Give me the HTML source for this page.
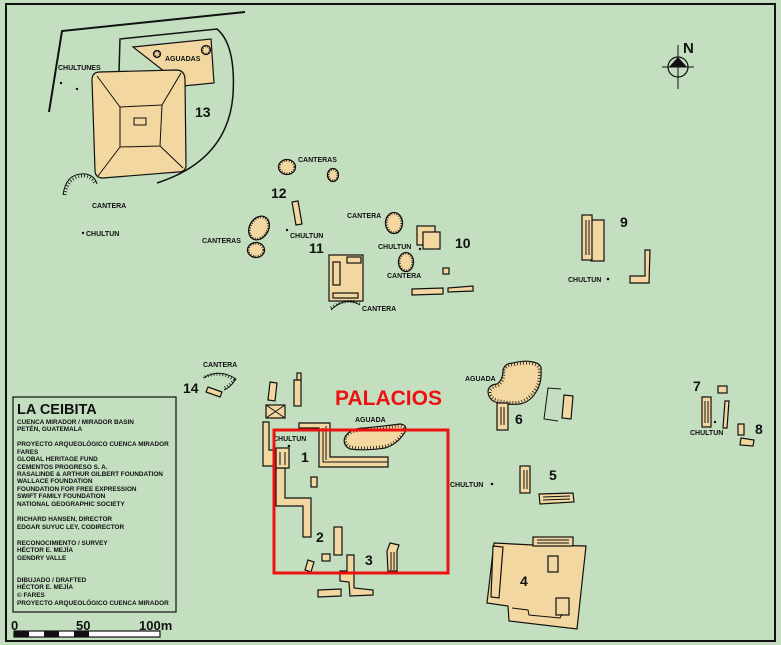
<!DOCTYPE html>
<html><head><meta charset="utf-8"><style>
html,body{margin:0;padding:0;background:#fff;}
svg{display:block;}
text{font-family:"Liberation Sans",Arial,sans-serif;font-weight:bold;fill:#111;}
.s{font-size:7px;}
.l{font-size:6.4px;}
.n{font-size:14px;}
.t{fill:#f2d8a0;stroke:#111;stroke-width:1.2;}
.ln{fill:none;stroke:#111;stroke-width:1;}
.h{fill:none;stroke:#111;stroke-width:4;stroke-dasharray:0.8 2.2;}
.c{fill:#f2d8a0;stroke:#111;stroke-width:1.3;}
.ci{fill:none;stroke:#111;stroke-width:1.8;stroke-dasharray:0.8 1.8;}
</style></head><body>
<svg width="781" height="645" viewBox="0 0 781 645" xmlns="http://www.w3.org/2000/svg">
<rect x="0" y="0" width="781" height="645" fill="#c3dfc0"/>
<rect x="6" y="4" width="769" height="637" fill="none" stroke="#111" stroke-width="2"/>

<!-- top-left enclosure -->
<polyline class="ln" points="49,112 62,31 245,12" style="stroke-width:2"/>
<path class="ln" style="stroke-width:1.5" d="M119,72 L120,39 L217,29 Q236,45 233,95 Q228,160 157,183"/>
<polygon class="t" points="133,47 211,39 214,83 183,86"/>
<circle cx="157" cy="54" r="3.5" class="c"/><circle cx="157" cy="54" r="2.6" class="ci"/>
<circle cx="206" cy="50" r="4.5" class="c"/><circle cx="206" cy="50" r="3.6" class="ci"/>
<text class="s" x="165" y="61">AGUADAS</text>
<text class="s" x="58" y="70">CHULTUNES</text>
<circle cx="61" cy="83" r="1.2" fill="#111"/><circle cx="77" cy="89" r="1.2" fill="#111"/>
<path class="t" d="M100,72 L176,70 Q185,70 185,80 L186,165 Q186,172 178,172 L103,178 Q95,178 95,170 L92,80 Q92,72 100,72Z"/>
<polygon class="ln" points="120,107 162,105 160,146 120,147"/>
<line class="ln" x1="97" y1="76" x2="120" y2="107"/><line class="ln" x1="181" y1="73" x2="162" y2="105"/>
<line class="ln" x1="183" y1="168" x2="160" y2="146"/><line class="ln" x1="98" y1="176" x2="120" y2="147"/>
<rect x="134" y="118" width="12" height="7" fill="none" stroke="#111"/>
<text class="n" x="195" y="117">13</text>
<path class="ln" d="M63,195 Q66,172 86,174 Q95,176 97,184"/><path class="h" d="M65,195 Q68,175 86,176 Q93,178 95,184" style="stroke-width:3"/>
<text class="s" x="92" y="208">CANTERA</text>
<circle cx="83" cy="233" r="1.2" fill="#111"/><text class="s" x="86" y="236">CHULTUN</text>

<!-- group 12 -->
<ellipse class="c" cx="287" cy="167" rx="8.5" ry="7.5"/><ellipse class="ci" cx="287" cy="167" rx="7.3" ry="6.3"/>
<ellipse class="c" cx="333" cy="175" rx="5.5" ry="6.5"/><ellipse class="ci" cx="333" cy="175" rx="4.4" ry="5.4"/>
<text class="s" x="298" y="162">CANTERAS</text>
<text class="n" x="271" y="198">12</text>
<polygon class="t" points="292,202 298,201 302,224 296,225"/>
<g transform="rotate(30 259 228)"><ellipse class="c" cx="259" cy="228" rx="9.5" ry="12.5"/><ellipse class="ci" cx="259" cy="228" rx="8.3" ry="11.3"/></g>
<ellipse class="c" cx="256" cy="250" rx="8.5" ry="7.5"/><ellipse class="ci" cx="256" cy="250" rx="7.3" ry="6.3"/>
<text class="s" x="202" y="243">CANTERAS</text>
<circle cx="287" cy="230" r="1.2" fill="#111"/><text class="s" x="290" y="238">CHULTUN</text>
<text class="n" x="309" y="253">11</text>
<rect class="t" x="329" y="255" width="34" height="46"/>
<rect class="t" x="333" y="262" width="7" height="23"/>
<rect class="t" x="347" y="257" width="14" height="6"/>
<rect class="t" x="333" y="293" width="25" height="5"/>
<path class="ln" d="M331,310 Q345,296 360,305"/><path class="h" d="M331,308 Q345,298 360,303" style="stroke-width:3"/>
<text class="s" x="362" y="311">CANTERA</text>

<!-- group 10 -->
<ellipse class="c" cx="394" cy="223" rx="8.5" ry="10.5"/><ellipse class="ci" cx="394" cy="223" rx="7.3" ry="9.3"/>
<text class="s" x="347" y="218">CANTERA</text>
<rect class="t" x="417" y="226" width="18" height="19"/>
<rect class="t" x="423" y="232" width="17" height="17"/>
<text class="n" x="455" y="248">10</text>
<text class="s" x="378" y="249">CHULTUN</text><circle cx="420" cy="249" r="1.2" fill="#111"/>
<ellipse class="c" cx="406" cy="262" rx="7.5" ry="9.5"/><ellipse class="ci" cx="406" cy="262" rx="6.3" ry="8.3"/>
<text class="s" x="387" y="278">CANTERA</text>
<rect class="t" x="443" y="268" width="6" height="6"/>
<polygon class="t" points="412,289 443,288 443,294 412,295"/>
<polygon class="t" points="448,288 473,286 473,291 448,292"/>

<!-- group 9 -->
<rect class="t" x="591" y="220" width="13" height="41"/>
<rect class="t" x="582" y="215" width="10" height="45"/>
<line class="ln" x1="586" y1="220" x2="586" y2="255"/><line class="ln" x1="589" y1="220" x2="589" y2="255"/>
<text class="n" x="620" y="227">9</text>
<polygon class="t" points="645,250 650,250 649,283 630,283 630,276 645,276"/>
<text class="s" x="568" y="282">CHULTUN</text><circle cx="608" cy="279" r="1.3" fill="#111"/>

<!-- north -->
<circle cx="678" cy="67" r="10" fill="none" stroke="#111" stroke-width="1.2"/>
<line class="ln" x1="678" y1="45" x2="678" y2="89"/><line class="ln" x1="662" y1="67" x2="694" y2="67"/>
<polygon points="669,67 678,57 687,67" fill="#111"/>
<text x="683" y="53" style="font-size:15px">N</text>

<!-- group 14 -->
<text class="s" x="203" y="367">CANTERA</text>
<path class="ln" d="M203,378 Q220,368 236,379 Q230,388 224,390"/>
<path class="h" d="M205,377 Q220,370 234,380 Q229,386 224,388" style="stroke-width:3"/>
<text class="n" x="183" y="393">14</text>
<polygon class="t" points="208,387 222,392 220,397 206,392"/>

<!-- palacios area -->
<polygon class="t" points="270,382 277,383 275,401 268,400"/>
<rect class="t" x="294" y="380" width="7" height="26"/>
<rect class="t" x="297" y="373" width="4" height="7"/>
<rect class="t" x="266" y="405" width="19" height="13"/>
<line class="ln" x1="266" y1="405" x2="285" y2="418"/><line class="ln" x1="285" y1="405" x2="266" y2="418"/>
<polygon class="t" points="263,422 269,422 269,450 276,450 276,466 263,466"/>
<polygon class="t" points="299,423 330,423 330,457 388,457 388,467 319,467 319,428 299,428"/>
<polyline class="ln" points="323,428 323,462 388,462"/>
<polyline class="ln" points="326,426 326,460"/>
<path class="t" d="M345,437 Q350,428 365,428 Q385,426 400,424 Q408,425 405,432 Q398,444 385,448 Q365,451 350,449 Q342,445 345,437Z"/>
<path class="h" d="M346,437 Q351,430 365,430 Q385,428 399,426 Q406,427 403,432 Q397,443 385,446 Q365,449 351,447 Q344,444 346,437Z" style="stroke-width:2.5"/>
<text class="s" x="355" y="422">AGUADA</text>
<text class="s" x="273" y="441">CHULTUN</text><circle cx="289" cy="446" r="1.3" fill="#111"/>
<text class="n" x="301" y="462">1</text>
<polygon class="t" points="276,468 285,468 285,498 311,498 311,537 303,537 303,506 276,506"/>
<rect class="t" x="276" y="448" width="13" height="20"/>
<line class="ln" x1="280" y1="452" x2="280" y2="465"/><line class="ln" x1="285" y1="452" x2="285" y2="465"/>
<rect class="t" x="311" y="477" width="6" height="10"/>
<text class="n" x="316" y="542">2</text>
<rect class="t" x="334" y="527" width="8" height="28"/>
<rect class="t" x="322" y="554" width="8" height="7"/>
<polygon class="t" points="308,560 314,562 311,572 305,570"/>
<text class="n" x="365" y="565">3</text>
<polygon class="t" points="390,543 399,545 397,551 397,571 388,571 387,551"/>
<line class="ln" x1="391" y1="552" x2="391" y2="570"/><line class="ln" x1="394" y1="552" x2="394" y2="570"/>
<polygon class="t" points="347,555 354,555 354,588 373,590 373,595 350,596 349,582 340,581 340,571 347,571"/>
<polygon class="t" points="318,590 341,589 341,596 318,597"/>
<rect x="274" y="430" width="174" height="143" fill="none" stroke="#ee1111" stroke-width="3"/>
<text x="335" y="405" style="font-size:21px;fill:#ee1111">PALACIOS</text>

<!-- group 6 -->
<path class="t" d="M503,370 Q505,363 513,363 Q525,360 533,362 Q542,364 541,370 Q542,383 536,392 Q530,402 520,404 Q510,405 500,403 Q489,402 488,392 Q488,385 497,384 Q503,380 503,370Z"/>
<path class="h" d="M504,370 Q507,365 514,365 Q525,362 533,364 Q540,366 539,371 Q540,383 534,391 Q528,400 519,402 Q510,403 501,401 Q491,400 490,392 Q491,387 498,386 Q505,381 504,370Z" style="stroke-width:2.5"/>
<text class="s" x="465" y="381">AGUADA</text>
<rect class="t" x="497" y="403" width="11" height="27"/>
<line class="ln" x1="501" y1="407" x2="501" y2="425"/><line class="ln" x1="504" y1="407" x2="504" y2="425"/>
<text class="n" x="515" y="424">6</text>
<polyline class="ln" points="561,389 548,388 544,419 558,421"/>
<polygon class="t" points="564,395 573,396 571,419 562,418"/>

<!-- group 5 -->
<text class="s" x="450" y="487">CHULTUN</text><circle cx="492" cy="484" r="1.3" fill="#111"/>
<text class="n" x="549" y="480">5</text>
<rect class="t" x="520" y="466" width="10" height="27"/>
<line class="ln" x1="524" y1="470" x2="524" y2="489"/><line class="ln" x1="527" y1="470" x2="527" y2="489"/>
<polygon class="t" points="539,494 573,493 574,502 540,504"/>
<line class="ln" x1="543" y1="497" x2="570" y2="496"/><line class="ln" x1="543" y1="500" x2="570" y2="499"/>

<!-- group 4 -->
<polygon class="t" points="494,543 533,545 586,546 577,629 509,621 508,606 487,603"/>
<rect class="t" x="533" y="537" width="40" height="9"/>
<line class="ln" x1="537" y1="540" x2="569" y2="540"/><line class="ln" x1="537" y1="543" x2="569" y2="543"/>
<polygon class="t" points="493,546 503,547 499,598 491,597"/>
<rect class="t" x="548" y="556" width="10" height="16"/>
<rect class="t" x="556" y="598" width="13" height="17"/>
<polyline class="ln" points="512,608 528,610 529,615 560,618 562,614"/>
<text class="n" x="520" y="586">4</text>

<!-- group 7/8 -->
<text class="n" x="693" y="391">7</text>
<rect class="t" x="718" y="386" width="9" height="7"/>
<rect class="t" x="702" y="397" width="9" height="30"/>
<line class="ln" x1="705" y1="401" x2="705" y2="423"/><line class="ln" x1="708" y1="401" x2="708" y2="423"/>
<polygon class="t" points="725,401 729,401 727,428 723,428"/>
<circle cx="715" cy="422" r="1.2" fill="#111"/>
<text class="s" x="690" y="435">CHULTUN</text>
<rect class="t" x="738" y="424" width="6" height="11"/>
<text class="n" x="755" y="434">8</text>
<polygon class="t" points="741,438 754,440 753,446 740,445"/>

<!-- legend -->
<rect x="13" y="397" width="163" height="215" fill="none" stroke="#111" stroke-width="1.2"/>
<text x="17" y="414" style="font-size:14.5px">LA CEIBITA</text>
<text class="l" x="17" y="424">CUENCA MIRADOR / MIRADOR BASIN</text>
<text class="l" x="17" y="431">PETÉN, GUATEMALA</text>
<text class="l" x="17" y="446">PROYECTO ARQUEOLÓGICO CUENCA MIRADOR</text>
<text class="l" x="17" y="454">FARES</text>
<text class="l" x="17" y="461">GLOBAL HERITAGE FUND</text>
<text class="l" x="17" y="469">CEMENTOS PROGRESO S. A.</text>
<text class="l" x="17" y="476">RASALINDE &amp; ARTHUR GILBERT FOUNDATION</text>
<text class="l" x="17" y="483">WALLACE FOUNDATION</text>
<text class="l" x="17" y="491">FOUNDATION FOR  FREE EXPRESSION</text>
<text class="l" x="17" y="498">SWIFT FAMILY FOUNDATION</text>
<text class="l" x="17" y="506">NATIONAL GEOGRAPHIC SOCIETY</text>
<text class="l" x="17" y="521">RICHARD HANSEN, DIRECTOR</text>
<text class="l" x="17" y="529">EDGAR SUYUC LEY, CODIRECTOR</text>
<text class="l" x="17" y="545">RECONOCIMIENTO / SURVEY</text>
<text class="l" x="17" y="552">HÉCTOR E. MEJÍA</text>
<text class="l" x="17" y="560">GENDRY VALLE</text>
<text class="l" x="17" y="582">DIBUJADO / DRAFTED</text>
<text class="l" x="17" y="589">HÉCTOR E. MEJÍA</text>
<text class="l" x="17" y="597">©  FARES</text>
<text class="l" x="17" y="605">PROYECTO ARQUEOLÓGICO CUENCA MIRADOR</text>
<text x="11" y="630" style="font-size:13px">0</text>
<text x="76" y="630" style="font-size:13px">50</text>
<text x="139" y="630" style="font-size:13px">100m</text>
<rect x="14" y="631" width="146" height="6" fill="#fff" stroke="#111" stroke-width="1.2"/>
<rect x="14" y="631" width="15" height="6" fill="#111"/>
<rect x="44" y="631" width="15" height="6" fill="#111"/>
<rect x="74" y="631" width="15" height="6" fill="#111"/>
</svg>
</body></html>
